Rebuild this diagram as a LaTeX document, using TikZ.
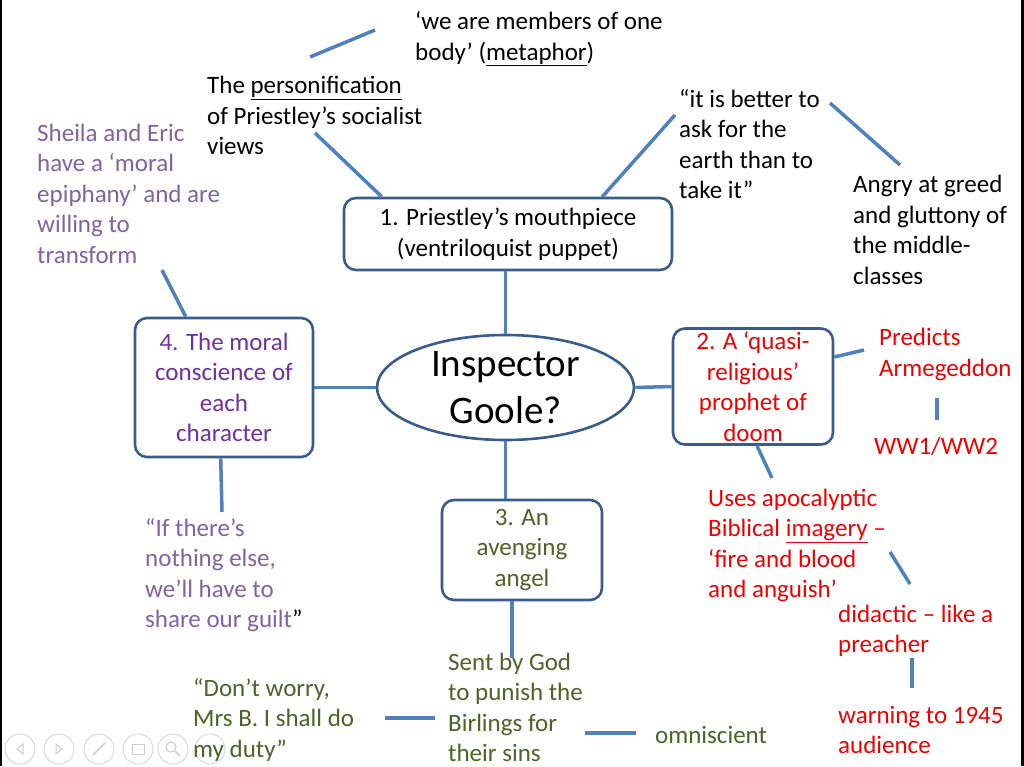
\documentclass[tikz,border=0pt]{standalone}
\usepackage{fontspec}
\setmainfont{Carlito}
\usepackage{xcolor}
\usetikzlibrary{calc,shapes.geometric}
\definecolor{linkblue}{RGB}{79,129,189}
\definecolor{boxblue}{RGB}{56,93,138}
\definecolor{lilac}{RGB}{128,100,162}
\definecolor{plum}{RGB}{112,48,160}
\definecolor{olive}{RGB}{79,98,40}
\definecolor{doomred}{RGB}{240,0,0}

\begin{document}
\begin{tikzpicture}[x=1pt,y=-1pt,font=\fontsize{25}{30.5}\selectfont]
   \tikzstyle{box}=[draw=boxblue, line width=2.6pt, rounded corners=12pt, align=center, inner sep=0pt]
   \tikzstyle{note}=[align=left, anchor=west, inner sep=0pt]
   \tikzstyle{link}=[linkblue, line width=3.5pt]
   \tikzstyle{ctl}=[circle, draw=black!15, line width=1pt, minimum size=30pt, inner sep=0pt]
   \fill[white] (0,0) rectangle (1024,766);
   \fill[black] (0,0) rectangle (2,766);
   \fill[black] (1021,0) rectangle (1024,766);
   \useasboundingbox (0,0) rectangle (1024,766);
   %% slide show controls
\foreach \x [count=\i] in {20,59,99,138,173,210} \node (ctl\i) at (\x,749) [ctl] {};
\draw[black!20, line width=1pt] ($(ctl1)+(3,-5)$) -- ($(ctl1)+(-3,0)$) -- ($(ctl1)+(3,5)$) -- cycle;
\draw[black!20, line width=1pt] ($(ctl2)+(-3,-5)$) -- ($(ctl2)+(3,0)$) -- ($(ctl2)+(-3,5)$) -- cycle;
\draw[black!20, line width=1.5pt] ($(ctl3)+(-6,6)$) -- ($(ctl3)+(6,-6)$);
\draw[black!20, line width=1pt] ($(ctl4)+(-6,-5)$) rectangle ($(ctl4)+(6,5)$);
\draw[black!20, line width=1pt] ($(ctl5)+(-2,-2)$) circle (5pt);
\draw[black!20, line width=1.5pt] ($(ctl5)+(2,2)$) -- ($(ctl5)+(7,7)$);
   %% centre and branches
\node (goole) at (505.5,387.5) [ellipse, draw=boxblue, line width=2.6pt, minimum width=257pt, minimum height=105pt, inner sep=0pt, align=center, font=\fontsize{39}{47}\selectfont] {Inspector\\Goole?};
\node (box1) at (508,234) [box, minimum width=328pt, minimum height=72pt] {1. Priestley’s mouthpiece\\(ventriloquist puppet)};
\node (box2) at (753,386.5) [box, text=doomred, minimum width=160pt, minimum height=116pt] {2. A ‘quasi-\\religious’\\prophet of\\doom};
\node (box3) at (522,550) [box, text=olive, minimum width=160pt, minimum height=100pt] {3. An\\avenging\\angel};
\node (box4) at (224,387.5) [box, text=plum, minimum width=178pt, minimum height=139pt] {4. The moral\\conscience of\\each\\character};
   %% notes
\node (body) at (415,39) [note] {‘we are members of one\\body’ (\underline{metaphor})};
\node (persona) at (207,115.5) [note] {The \underline{personification}\\of Priestley’s socialist\\views};
\node (earth) at (679,144) [note] {“it is better to\\ask for the\\earth than to\\take it”};
\node (greed) at (853,230) [note] {Angry at greed\\and gluttony of\\the middle-\\classes};
\node (sheila) at (37,193.5) [note, text=lilac] {Sheila and Eric\\have a ‘moral\\epiphany’ and are\\willing to\\transform};
\node (guilt) at (145,575) [note, text=lilac] {“If there’s\\nothing else,\\we’ll have to\\share our guilt\textcolor{black}{”}};
\node (armageddon) at (879,354.5) [note, text=doomred] {Predicts\\Armegeddon};
\node (ww) at (936,446) [text=doomred, inner sep=0pt] {WW1/WW2};
\node (apoc) at (708,545.5) [note, text=doomred] {Uses apocalyptic\\Biblical \underline{imagery} –\\‘fire and blood\\and anguish’};
\node (didactic) at (838,631) [note, text=doomred] {didactic – like a\\preacher};
\node (warning) at (838,730) [note, text=doomred] {warning to 1945\\audience};
\node (sent) at (448,707.5) [note, text=olive] {Sent by God\\to punish the\\Birlings for\\their sins};
\node (duty) at (193,719.5) [note, text=olive] {“Don’t worry,\\Mrs B. I shall do\\my duty”};
\node (omni) at (655,735) [note, text=olive] {omniscient};
   %% free ends
\coordinate (c1) at (310,57);
\coordinate (c2) at (375,30);
\coordinate (c3) at (315,133);
\coordinate (c4) at (675,115);
\coordinate (c5) at (830,103);
\coordinate (c6) at (900,165);
\coordinate (c7) at (162,270);
\coordinate (c8) at (222,512);
\coordinate (c9) at (864,350);
\coordinate (c10) at (937,398);
\coordinate (c11) at (937,420);
\coordinate (c12) at (772,478);
\coordinate (c13) at (890,552);
\coordinate (c14) at (910,584);
\coordinate (c15) at (912,658);
\coordinate (c16) at (912,688);
\coordinate (c17) at (512,658);
\coordinate (c18) at (385,718);
\coordinate (c19) at (435,718);
\coordinate (c20) at (585,733);
\coordinate (c21) at (636,733);
   %% links
\draw[link] (c1) -- (c2);
\draw[link] (c3) -- ($(box1.north west)+(39,0)$);
\draw[link] (c4) -- ($(box1.north east)+(-71,0)$);
\draw[link] (c5) -- (c6);
\draw[link] (c7) -- ($(box4.north west)+(52,0)$);
\draw[link] ($(box4.south west)+(87,0)$) -- (c8);
\draw[link] (goole.north) -- (goole.north |- box1.south);
\draw[link] (goole.west) -- (box4.east);
\draw[link] (goole.east) -- (box2.west);
\draw[link] (goole.south) -- (goole.south |- box3.north);
\draw[link] ($(box2.east)+(0,-29.5)$) -- (c9);
\draw[link] (c10) -- (c11);
\draw[link] ($(box2.south)+(4,0)$) -- (c12);
\draw[link] (c13) -- (c14);
\draw[link] (c15) -- (c16);
\draw[link] (box3.south -| c17) -- (c17);
\draw[link] (c18) -- (c19);
\draw[link] (c20) -- (c21);
    \end{tikzpicture}
\end{document}
